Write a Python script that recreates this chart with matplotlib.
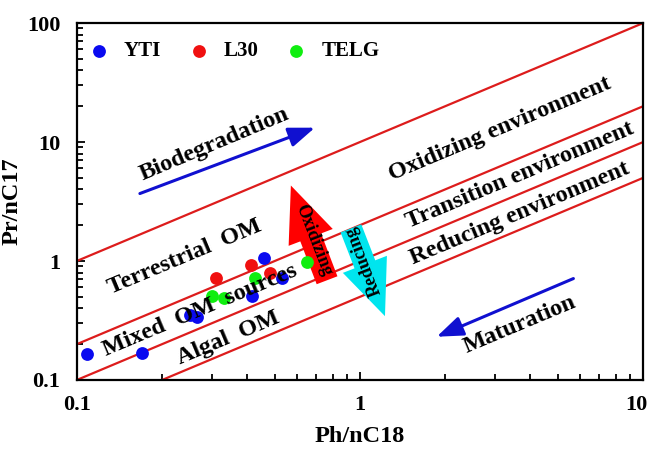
import numpy as np
import matplotlib
matplotlib.use("Agg")
import matplotlib.pyplot as plt
import matplotlib.transforms as mtransforms
from matplotlib.ticker import LogLocator, FixedFormatter, FixedLocator, NullFormatter

plt.rcParams["font.family"] = ["Liberation Serif", "DejaVu Serif"]
plt.rcParams["font.weight"] = "bold"

# ---------- data ----------
yti_x = [0.109, 0.170, 0.250, 0.265, 0.416, 0.459, 0.529]
yti_y = [0.164, 0.167, 0.350, 0.340, 0.506, 1.070, 0.726]
l30_x = [0.310, 0.411, 0.481]
l30_y = [0.720, 0.920, 0.790]
telg_x = [0.299, 0.330, 0.425, 0.648]
telg_y = [0.506, 0.490, 0.726, 0.990]

# boundary lines Pr/nC17 = k * Ph/nC18
line_k = [10, 2, 1, 0.5]

x_ticks = [0.1, 1, 10]
x_ticklabels = ["0.1", "1", "10"]
y_ticks = [0.1, 1, 10, 100]
y_ticklabels = ["0.1", "1", "10", "100"]

RED_LINE = "#dd1c1c"
ROT = 22.8

fig = plt.figure(figsize=(6.51, 4.49), dpi=100)
ax = fig.add_axes([0.118, 0.1537, 0.870, 0.795])

xs = np.array([0.1, 10.0])
for k in line_k:
    ax.plot(xs, k * xs, color=RED_LINE, lw=1.6, zorder=2)

ax.scatter(yti_x, yti_y, s=85, color="#0a0af0", label="YTI", zorder=4, lw=0)
ax.scatter(l30_x, l30_y, s=85, color="#f01010", label="L30", zorder=4, lw=0)
ax.scatter(telg_x, telg_y, s=85, color="#10ee10", label="TELG", zorder=4, lw=0)

ax.set_xscale("log")
ax.set_yscale("log")
ax.set_xlim(0.1, 10)
ax.set_ylim(0.1, 100)

ax.xaxis.set_major_locator(FixedLocator(x_ticks))
ax.xaxis.set_major_formatter(FixedFormatter(x_ticklabels))
ax.yaxis.set_major_locator(FixedLocator(y_ticks))
ax.yaxis.set_major_formatter(FixedFormatter(y_ticklabels))
ax.xaxis.set_minor_locator(LogLocator(base=10, subs=np.arange(2, 10)))
ax.yaxis.set_minor_locator(LogLocator(base=10, subs=np.arange(2, 10)))
ax.xaxis.set_minor_formatter(NullFormatter())
ax.yaxis.set_minor_formatter(NullFormatter())
ax.tick_params(which="both", direction="in", top=False, right=False,
               width=1.3, labelsize=16)
ax.tick_params(axis="x", pad=11)
ax.tick_params(axis="y", pad=12)
ax.tick_params(which="major", length=6)
ax.tick_params(which="minor", length=4)
for sp in ax.spines.values():
    sp.set_linewidth(1.6)

# keep the "10" label inside the figure
fig.canvas.draw()
last = ax.get_xticklabels()[-1]
last.set_transform(last.get_transform() +
                   mtransforms.ScaledTranslation(-5 / 72, 0, fig.dpi_scale_trans))

ax.set_xlabel("Ph/nC18", fontsize=17.5, fontweight="bold", labelpad=8)
ax.set_ylabel("Pr/nC17", fontsize=17.5, fontweight="bold")
ax.yaxis.set_label_coords(-0.096, 0.5)

leg = ax.legend(loc="upper left", ncol=3, frameon=False, fontsize=15,
                handletextpad=0.7, columnspacing=1.3, handlelength=1.0,
                bbox_to_anchor=(-0.005, 0.99), borderaxespad=0.3)

# region labels
txt = dict(fontsize=17.5, fontweight="bold", ha="center", va="center",
           rotation=ROT, rotation_mode="anchor", zorder=5)
ax.text(0.305, 9.5, "Biodegradation", **txt)
ax.text(3.12, 12.9, "Oxidizing environment", **txt)
ax.text(3.67, 5.2, "Transition environment", **txt)
ax.text(3.67, 2.5, "Reducing environment", **txt)
ax.text(0.241, 1.07, "Terrestrial  OM", **txt)
ax.text(0.272, 0.386, "Mixed  OM  sources", **txt)
ax.text(0.344, 0.225, "Algal  OM", **txt)
ax.text(3.67, 0.289, "Maturation", **txt)

# thin trend arrows
thin = dict(arrowstyle="-|>,head_length=0.8,head_width=0.3", color="#1010d0",
            lw=2.2, mutation_scale=20, shrinkA=0, shrinkB=0)
ax.annotate("", xy=(0.693, 13.2), xytext=(0.167, 3.69), arrowprops=thin, zorder=3)
ax.annotate("", xy=(1.866, 0.231), xytext=(5.67, 0.712), arrowprops=thin, zorder=3)

# fat oxidizing / reducing arrows
fat = "simple,head_length=1.0,head_width=0.85,tail_width=0.4"
ax.annotate("", xy=(0.570, 4.31), xytext=(0.765, 0.689),
            arrowprops=dict(arrowstyle=fat, color="#ff0000", lw=0,
                            mutation_scale=40, shrinkA=0, shrinkB=0), zorder=3)
ax.annotate("", xy=(1.225, 0.344), xytext=(0.929, 1.88),
            arrowprops=dict(arrowstyle=fat, color="#00e5ee", lw=0,
                            mutation_scale=40, shrinkA=0, shrinkB=0), zorder=3)
ax.text(0.688, 1.49, "Oxidizing", fontsize=13, fontweight="bold", ha="center",
        va="center", rotation=-69, rotation_mode="anchor", zorder=5)
ax.text(1.033, 1.01, "Reducing", fontsize=13, fontweight="bold", ha="center",
        va="center", rotation=111, rotation_mode="anchor", zorder=5)

fig.savefig("out.png", dpi=100)
